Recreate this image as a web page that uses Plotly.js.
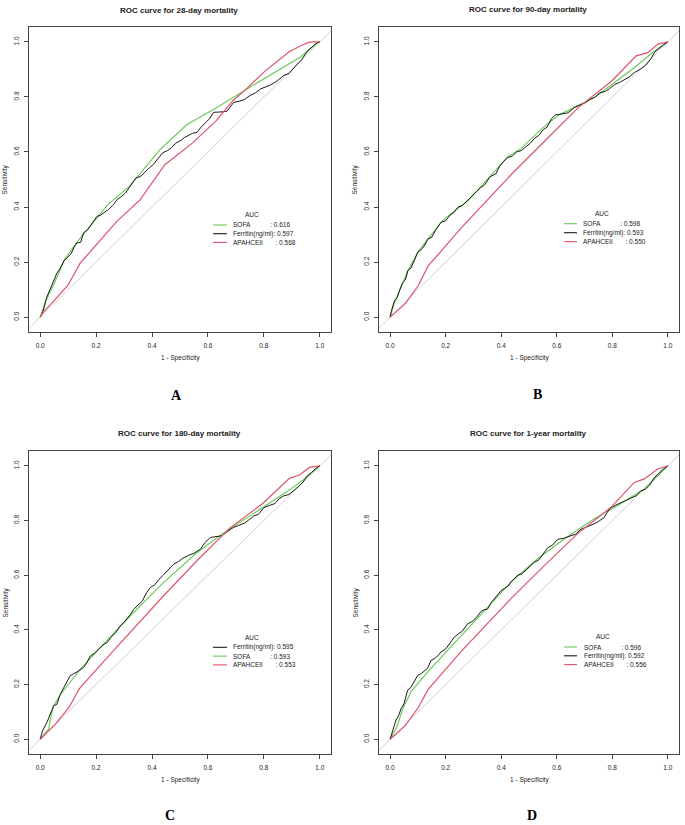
<!DOCTYPE html>
<html>
<head>
<meta charset="utf-8">
<script src="https://cdn.plot.ly/plotly-3.0.1.min.js"></script>
<style>
html, body { margin: 0; padding: 0; background: #ffffff; }
#chart { width: 685px; height: 825px; }
</style>
</head>
<body>
<div id="chart"></div>
<script>
// ---------------- DATA ----------------
const panelTitles = ['ROC curve for 28-day mortality', 'ROC curve for 90-day mortality',
                     'ROC curve for 180-day mortality', 'ROC curve for 1-year mortality'];
const panelLetters = ['A', 'B', 'C', 'D'];
const tickValues = [0, 0.2, 0.4, 0.6, 0.8, 1.0];
const tickLabels = ['0.0', '0.2', '0.4', '0.6', '0.8', '1.0'];
const chanceLine = [-0.1, 1.1];

// Panel A: 28-day
const sofaA_fpr = [0, 0.02, 0.05, 0.086, 0.128, 0.187, 0.241, 0.319, 0.43, 0.525, 0.629, 0.74, 0.83, 0.931, 0.99, 1];
const sofaA_tpr = [0, 0.06, 0.122, 0.207, 0.268, 0.341, 0.408, 0.475, 0.61, 0.700, 0.760, 0.829, 0.885, 0.945, 0.995, 1];
const ferrA_fpr = [0, 0.01, 0.024, 0.035, 0.048, 0.06, 0.072, 0.085, 0.095, 0.11, 0.122, 0.131, 0.145, 0.155, 0.17, 0.185, 0.203, 0.215, 0.228, 0.245, 0.262, 0.275, 0.29, 0.305, 0.318, 0.33, 0.342, 0.36, 0.375, 0.39, 0.405, 0.42, 0.438, 0.455, 0.47, 0.485, 0.5, 0.515, 0.53, 0.545, 0.561, 0.575, 0.59, 0.605, 0.62, 0.64, 0.655, 0.668, 0.68, 0.692, 0.71, 0.73, 0.75, 0.77, 0.788, 0.805, 0.82, 0.835, 0.85, 0.871, 0.89, 0.907, 0.92, 0.935, 0.955, 0.97, 0.987, 1];
const ferrA_tpr = [0, 0.02, 0.074, 0.1, 0.13, 0.16, 0.178, 0.205, 0.214, 0.23, 0.255, 0.269, 0.272, 0.306, 0.318, 0.34, 0.366, 0.37, 0.38, 0.392, 0.409, 0.427, 0.438, 0.451, 0.47, 0.49, 0.505, 0.512, 0.528, 0.542, 0.555, 0.575, 0.597, 0.605, 0.616, 0.632, 0.64, 0.652, 0.66, 0.668, 0.671, 0.69, 0.705, 0.72, 0.744, 0.744, 0.746, 0.748, 0.765, 0.78, 0.784, 0.79, 0.805, 0.815, 0.829, 0.835, 0.842, 0.85, 0.86, 0.878, 0.885, 0.905, 0.92, 0.935, 0.966, 0.98, 0.995, 1];
const apacheA_fpr = [0, 0.012, 0.05, 0.10, 0.143, 0.2, 0.274, 0.358, 0.445, 0.545, 0.629, 0.689, 0.74, 0.80, 0.889, 0.93, 0.96, 0.979, 1];
const apacheA_tpr = [0, 0.019, 0.06, 0.117, 0.196, 0.262, 0.348, 0.427, 0.553, 0.633, 0.713, 0.786, 0.832, 0.89, 0.963, 0.985, 0.998, 1.0, 1];

// Panel B: 90-day
const sofaB_fpr = [0, 0.015, 0.034, 0.064, 0.1, 0.136, 0.184, 0.23, 0.28, 0.33, 0.38, 0.424, 0.472, 0.544, 0.605, 0.664, 0.736, 0.808, 0.88, 0.952, 1];
const sofaB_tpr = [0, 0.05, 0.097, 0.169, 0.236, 0.284, 0.345, 0.385, 0.423, 0.478, 0.535, 0.583, 0.613, 0.683, 0.733, 0.762, 0.798, 0.852, 0.907, 0.967, 1];
const ferrB_fpr = [0, 0.004, 0.016, 0.025, 0.034, 0.045, 0.055, 0.064, 0.075, 0.085, 0.1, 0.112, 0.125, 0.136, 0.15, 0.165, 0.184, 0.2, 0.215, 0.23, 0.245, 0.26, 0.28, 0.295, 0.31, 0.325, 0.34, 0.36, 0.38, 0.395, 0.41, 0.424, 0.44, 0.455, 0.472, 0.49, 0.505, 0.52, 0.535, 0.55, 0.565, 0.58, 0.595, 0.605, 0.62, 0.64, 0.664, 0.685, 0.705, 0.72, 0.736, 0.755, 0.775, 0.79, 0.808, 0.825, 0.84, 0.86, 0.88, 0.9, 0.92, 0.94, 0.952, 0.97, 0.985, 1];
const ferrB_tpr = [0, 0.02, 0.061, 0.07, 0.097, 0.125, 0.135, 0.169, 0.178, 0.2, 0.236, 0.245, 0.262, 0.284, 0.29, 0.318, 0.345, 0.35, 0.37, 0.38, 0.4, 0.405, 0.423, 0.44, 0.455, 0.47, 0.48, 0.51, 0.52, 0.55, 0.567, 0.58, 0.585, 0.6, 0.605, 0.62, 0.632, 0.65, 0.66, 0.68, 0.69, 0.72, 0.735, 0.736, 0.738, 0.742, 0.762, 0.772, 0.78, 0.792, 0.798, 0.815, 0.82, 0.83, 0.845, 0.852, 0.86, 0.872, 0.889, 0.9, 0.915, 0.94, 0.962, 0.978, 0.99, 1];
const apacheB_fpr = [0, 0.053, 0.101, 0.137, 0.257, 0.437, 0.557, 0.677, 0.797, 0.886, 0.928, 0.964, 1];
const apacheB_tpr = [0, 0.047, 0.114, 0.186, 0.325, 0.519, 0.640, 0.761, 0.857, 0.949, 0.961, 0.992, 1];

// Panel C: 180-day
const ferrC_fpr = [0, 0.008, 0.024, 0.036, 0.048, 0.06, 0.07, 0.08, 0.095, 0.107, 0.12, 0.135, 0.155, 0.167, 0.179, 0.195, 0.21, 0.225, 0.239, 0.255, 0.27, 0.286, 0.3, 0.322, 0.334, 0.35, 0.365, 0.38, 0.394, 0.41, 0.425, 0.44, 0.46, 0.477, 0.495, 0.51, 0.53, 0.55, 0.573, 0.59, 0.609, 0.63, 0.65, 0.67, 0.692, 0.71, 0.73, 0.75, 0.764, 0.78, 0.8, 0.82, 0.84, 0.855, 0.871, 0.89, 0.907, 0.925, 0.94, 0.955, 0.97, 0.985, 1];
const ferrC_tpr = [0, 0.03, 0.061, 0.09, 0.122, 0.128, 0.16, 0.18, 0.21, 0.232, 0.24, 0.248, 0.262, 0.28, 0.304, 0.315, 0.33, 0.345, 0.353, 0.375, 0.39, 0.414, 0.428, 0.455, 0.475, 0.49, 0.505, 0.535, 0.555, 0.565, 0.585, 0.6, 0.622, 0.64, 0.65, 0.662, 0.672, 0.68, 0.695, 0.72, 0.738, 0.74, 0.744, 0.76, 0.775, 0.782, 0.79, 0.805, 0.817, 0.822, 0.847, 0.855, 0.862, 0.88, 0.89, 0.895, 0.908, 0.925, 0.94, 0.963, 0.975, 0.99, 1];
const sofaC_fpr = [0, 0.03, 0.04, 0.048, 0.07, 0.096, 0.14, 0.223, 0.319, 0.438, 0.557, 0.653, 0.772, 0.891, 0.95, 1];
const sofaC_tpr = [0, 0.037, 0.09, 0.122, 0.16, 0.195, 0.252, 0.344, 0.448, 0.57, 0.679, 0.752, 0.832, 0.911, 0.955, 1];
const apacheC_fpr = [0, 0.056, 0.104, 0.14, 0.259, 0.438, 0.557, 0.677, 0.796, 0.891, 0.927, 0.963, 1];
const apacheC_tpr = [0, 0.057, 0.118, 0.185, 0.32, 0.521, 0.649, 0.771, 0.862, 0.954, 0.966, 0.994, 1];

// Panel D: 1-year
const sofaD_fpr = [0, 0.023, 0.047, 0.077, 0.137, 0.22, 0.316, 0.436, 0.532, 0.628, 0.735, 0.819, 0.915, 1];
const sofaD_tpr = [0, 0.042, 0.115, 0.176, 0.248, 0.339, 0.442, 0.576, 0.661, 0.733, 0.806, 0.855, 0.915, 1];
const ferrD_fpr = [0, 0.008, 0.021, 0.03, 0.04, 0.05, 0.063, 0.075, 0.088, 0.1, 0.112, 0.124, 0.135, 0.147, 0.16, 0.172, 0.183, 0.2, 0.215, 0.231, 0.245, 0.26, 0.279, 0.295, 0.31, 0.328, 0.34, 0.351, 0.364, 0.38, 0.399, 0.412, 0.425, 0.44, 0.46, 0.475, 0.49, 0.505, 0.52, 0.535, 0.55, 0.567, 0.585, 0.603, 0.625, 0.65, 0.668, 0.686, 0.705, 0.72, 0.74, 0.755, 0.77, 0.782, 0.794, 0.81, 0.83, 0.85, 0.866, 0.885, 0.902, 0.92, 0.935, 0.95, 0.965, 0.98, 1];
const ferrD_tpr = [0, 0.03, 0.07, 0.085, 0.113, 0.13, 0.179, 0.19, 0.215, 0.234, 0.24, 0.252, 0.26, 0.288, 0.295, 0.305, 0.319, 0.33, 0.35, 0.373, 0.385, 0.395, 0.422, 0.43, 0.445, 0.468, 0.474, 0.476, 0.5, 0.52, 0.543, 0.552, 0.56, 0.58, 0.6, 0.605, 0.62, 0.635, 0.648, 0.655, 0.675, 0.70, 0.71, 0.731, 0.735, 0.743, 0.75, 0.767, 0.775, 0.78, 0.79, 0.8, 0.81, 0.83, 0.846, 0.855, 0.865, 0.872, 0.88, 0.89, 0.907, 0.915, 0.93, 0.955, 0.97, 0.985, 1];
const apacheD_fpr = [0, 0.053, 0.101, 0.137, 0.256, 0.436, 0.556, 0.675, 0.795, 0.879, 0.915, 0.963, 1];
const apacheD_tpr = [0, 0.048, 0.115, 0.182, 0.321, 0.515, 0.636, 0.752, 0.848, 0.939, 0.952, 0.988, 1];

// Legend entries (order as in each panel's legend) and AUC values
const legendNamesA = ['SOFA', 'Ferritin(ng/ml)', 'APAHCEII'];
const legendAucA = ['0.616', '0.597', '0.568'];
const legendNamesB = ['SOFA', 'Ferritin(ng/ml)', 'APAHCEII'];
const legendAucB = ['0.598', '0.593', '0.550'];
const legendNamesC = ['Ferritin(ng/ml)', 'SOFA', 'APAHCEII'];
const legendAucC = ['0.595', '0.593', '0.553'];
const legendNamesD = ['SOFA', 'Ferritin(ng/ml)', 'APAHCEII'];
const legendAucD = ['0.596', '0.592', '0.556'];

// ---------------- STYLE / LAYOUT ----------------
const W = 685, H = 825;
const COLORS = { 'SOFA': '#6CCB5A', 'Ferritin(ng/ml)': '#1a1a1a', 'APAHCEII': '#DF536B' };
const SANS = 'Liberation Sans, Arial, Helvetica, sans-serif';
const TXT = '#222222';
const px = v => v / W;
const py = v => 1 - v / H;

const curves = [
  { SOFA: [sofaA_fpr, sofaA_tpr], 'Ferritin(ng/ml)': [ferrA_fpr, ferrA_tpr], APAHCEII: [apacheA_fpr, apacheA_tpr] },
  { SOFA: [sofaB_fpr, sofaB_tpr], 'Ferritin(ng/ml)': [ferrB_fpr, ferrB_tpr], APAHCEII: [apacheB_fpr, apacheB_tpr] },
  { SOFA: [sofaC_fpr, sofaC_tpr], 'Ferritin(ng/ml)': [ferrC_fpr, ferrC_tpr], APAHCEII: [apacheC_fpr, apacheC_tpr] },
  { SOFA: [sofaD_fpr, sofaD_tpr], 'Ferritin(ng/ml)': [ferrD_fpr, ferrD_tpr], APAHCEII: [apacheD_fpr, apacheD_tpr] }
];
const legends = [
  [legendNamesA, legendAucA], [legendNamesB, legendAucB],
  [legendNamesC, legendAucC], [legendNamesD, legendAucD]
];

// panel frames in pixels: [left, right, top, bottom]
const frames = [
  [29, 331, 27, 332], [379, 679, 27, 332],
  [29, 331, 451, 754], [379, 679, 451, 754]
];
// panel text anchors in pixels
const titleY = [11, 10, 434, 433];
const letterPos = [[176, 395], [537, 394], [170, 815], [532, 815]];
const legendPos = [ // [AUC-centre x, AUC y, line x0, line x1, text x, first row y, row step]
  [252, 214, 213, 227, 231, 225, 8.7],
  [602, 213.3, 564, 577, 581, 223.7, 9],
  [252, 637, 213, 227, 231, 647.3, 8.8],
  [603, 636, 564, 577, 582, 647, 8.8]
];

const data = [];
const layout = {
  width: W, height: H,
  margin: { l: 0, r: 0, t: 0, b: 0 },
  paper_bgcolor: '#ffffff', plot_bgcolor: '#ffffff',
  showlegend: false,
  font: { family: SANS, color: TXT },
  annotations: [], shapes: []
};

const drawOrder = ['SOFA', 'Ferritin(ng/ml)', 'APAHCEII'];

frames.forEach((f, i) => {
  const sfx = i === 0 ? '' : String(i + 1);
  const xa = 'x' + sfx, ya = 'y' + sfx;
  const [l, r, t, b] = f;

  layout['xaxis' + sfx] = {
    domain: [px(l), px(r)], anchor: ya, range: [-0.04, 1.04],
    tickmode: 'array', tickvals: tickValues, ticktext: tickLabels,
    ticks: 'outside', ticklen: 4, tickwidth: 1, tickcolor: '#444',
    ticklabelstandoff: 3,
    tickfont: { family: SANS, size: 6.5, color: TXT },
    showline: true, mirror: true, linecolor: '#444', linewidth: 1,
    showgrid: false, zeroline: false, fixedrange: true
  };
  layout['yaxis' + sfx] = {
    domain: [py(b), py(t)], anchor: xa, range: [-0.054, 1.054],
    tickmode: 'array', tickvals: tickValues, ticktext: tickLabels,
    ticks: 'outside', ticklen: 4, tickwidth: 1, tickcolor: '#444',
    tickangle: -90, ticklabelstandoff: 2,
    tickfont: { family: SANS, size: 6.5, color: TXT },
    showline: true, mirror: true, linecolor: '#444', linewidth: 1,
    showgrid: false, zeroline: false, fixedrange: true
  };

  // chance diagonal
  data.push({
    type: 'scatter', mode: 'lines', x: chanceLine, y: chanceLine,
    xaxis: xa, yaxis: ya, line: { color: '#D0D0D0', width: 1 },
    hoverinfo: 'skip', showlegend: false
  });
  // ROC curves
  drawOrder.forEach(name => {
    const c = curves[i][name];
    data.push({
      type: 'scatter', mode: 'lines', name: name,
      x: c[0], y: c[1], xaxis: xa, yaxis: ya,
      line: { color: COLORS[name], width: name === 'Ferritin(ng/ml)' ? 1.0 : 1.2 },
      showlegend: false
    });
  });

  const cx = (l + r) / 2, cy = (t + b) / 2;
  // panel title
  layout.annotations.push({
    text: '<b>' + panelTitles[i] + '</b>', xref: 'paper', yref: 'paper',
    x: px(cx - 1), y: py(titleY[i]), xanchor: 'center', yanchor: 'middle',
    showarrow: false, font: { family: SANS, size: 8, color: TXT }
  });
  // x axis title
  layout.annotations.push({
    text: '1 - Specificity', xref: 'paper', yref: 'paper',
    x: px(cx), y: py(b + 26), xanchor: 'center', yanchor: 'middle',
    showarrow: false, font: { family: SANS, size: 6.5, color: TXT }
  });
  // y axis title
  layout.annotations.push({
    text: 'Sensitivity', xref: 'paper', yref: 'paper', textangle: -90,
    x: px(l - 24), y: py(cy), xanchor: 'center', yanchor: 'middle',
    showarrow: false, font: { family: SANS, size: 6.5, color: TXT }
  });
  // panel letter
  layout.annotations.push({
    text: '<b>' + panelLetters[i] + '</b>', xref: 'paper', yref: 'paper',
    x: px(letterPos[i][0]), y: py(letterPos[i][1]), xanchor: 'center', yanchor: 'middle',
    showarrow: false, font: { family: 'Liberation Serif, Times New Roman, serif', size: 14, color: '#000' }
  });

  // legend (R-style, no box)
  const lp = legendPos[i];
  const [names, aucs] = legends[i];
  layout.annotations.push({
    text: 'AUC', xref: 'paper', yref: 'paper',
    x: px(lp[0]), y: py(lp[1]), xanchor: 'center', yanchor: 'middle',
    showarrow: false, font: { family: SANS, size: 6.5, color: TXT }
  });
  names.forEach((nm, k) => {
    const rowY = lp[5] + k * lp[6];
    const label = nm.padEnd(15, '\u00a0') + ':\u00a0' + aucs[k];
    layout.shapes.push({
      type: 'line', xref: 'paper', yref: 'paper',
      x0: px(lp[2]), x1: px(lp[3]), y0: py(rowY), y1: py(rowY),
      line: { color: COLORS[nm], width: 1.1 }
    });
    layout.annotations.push({
      text: label, xref: 'paper', yref: 'paper',
      x: px(lp[4]), y: py(rowY), xanchor: 'left', yanchor: 'middle',
      showarrow: false, font: { family: SANS, size: 6.5, color: TXT }
    });
  });
});

Plotly.newPlot('chart', data, layout, { staticPlot: true, displayModeBar: false });
</script>
</body>
</html>
